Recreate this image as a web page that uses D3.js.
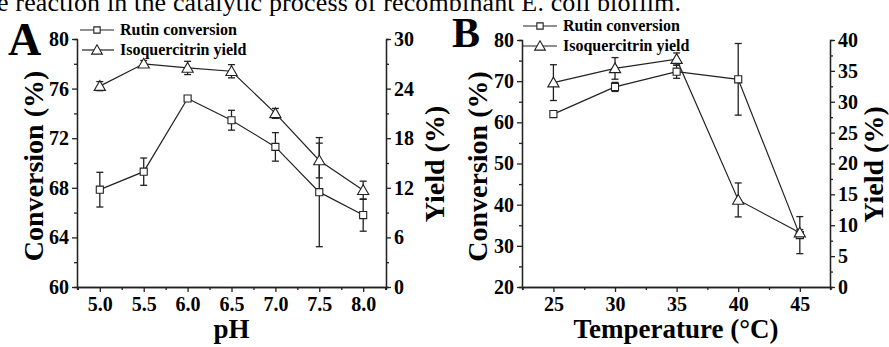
<!DOCTYPE html>
<html>
<head>
<meta charset="utf-8">
<script src="https://cdn.jsdelivr.net/npm/d3@7"></script>
<style>
  body { margin: 0; background: #fff; }
  svg { display: block; font-family: "Liberation Serif", "Times New Roman", serif; }
  .axis path, .axis line { stroke: #222; stroke-width: 1.3px; }
  .axis text { font-size: 20px; font-weight: bold; fill: #000; font-family: "Liberation Serif", serif; }
</style>
</head>
<body>
<svg id="chart" width="889" height="347"></svg>
<script>
// panel A: pH
const phValues = [5.0, 5.5, 6.0, 6.5, 7.0, 7.5, 8.0];
const phConversion = [67.85, 69.3, 75.2, 73.45, 71.3, 67.65, 65.8];
const phConversionErr = [1.4, 1.1, 0.1, 0.8, 1.15, 4.4, 1.3];
const phYield = [24.3, 27.0, 26.5, 26.1, 21.0, 15.3, 11.7];
const phYieldErr = [0.55, 0.4, 0.8, 0.8, 0.6, 2.1, 1.1];
const phTicks = [5.0, 5.5, 6.0, 6.5, 7.0, 7.5, 8.0];
const phConvTicks = [60, 64, 68, 72, 76, 80];
const phYieldTicks = [0, 6, 12, 18, 24, 30];

// panel B: temperature
const tempValues = [25, 30, 35, 40, 45];
const tempConversion = [62.0, 68.6, 72.3, 70.45, 32.6];
const tempConversionErr = [0.4, 1.1, 1.6, 8.7, 4.5];
const tempYield = [33.1, 35.4, 36.9, 14.1, 8.8];
const tempYieldErr = [2.9, 1.75, 1.0, 2.75, 0.5];
const tempTicks = [25, 30, 35, 40, 45];
const tempConvTicks = [20, 30, 40, 50, 60, 70, 80];
const tempYieldTicks = [0, 5, 10, 15, 20, 25, 30, 35, 40];

const seriesNames = ["Rutin conversion", "Isoquercitrin yield"];

const svg = d3.select("#chart");

// caption line cut off at the top of the picture
svg.append("text")
  .attr("x", -3).attr("y", 11)
  .attr("textLength", 684)
  .style("font-size", "26px")
  .text("e reaction in the catalytic process of recombinant E. coli biofilm.");

function drawPanel(p) {
  const g = svg.append("g");
  const x = d3.scaleLinear().domain(p.xDomain).range([p.left, p.right]);
  const yL = d3.scaleLinear().domain(p.yLDomain).range([p.bottom, p.top]);
  const yR = d3.scaleLinear().domain(p.yRDomain).range([p.bottom, p.top]);

  // minor ticks first
  const minor = (axis, scale, vals) => axis(scale).tickValues(vals).tickSize(3).tickFormat("");
  g.append("g").attr("class", "axis").attr("transform", `translate(0,${p.bottom})`)
    .call(minor(d3.axisBottom, x, p.xMinor));
  g.append("g").attr("class", "axis").attr("transform", `translate(${p.left},0)`)
    .call(minor(d3.axisLeft, yL, p.yLMinor));
  g.append("g").attr("class", "axis").attr("transform", `translate(${p.right},0)`)
    .call(minor(d3.axisRight, yR, p.yRMinor));

  g.append("g").attr("class", "axis").attr("transform", `translate(0,${p.bottom})`)
    .call(d3.axisBottom(x).tickValues(p.xTicks).tickSize(5).tickPadding(5)
      .tickSizeOuter(0).tickFormat(p.xFormat));
  g.append("g").attr("class", "axis").attr("transform", `translate(${p.left},0)`)
    .call(d3.axisLeft(yL).tickValues(p.yLTicks).tickSize(5).tickPadding(3).tickSizeOuter(0));
  g.append("g").attr("class", "axis").attr("transform", `translate(${p.right},0)`)
    .call(d3.axisRight(yR).tickValues(p.yRTicks).tickSize(5).tickPadding(3).tickSizeOuter(0));

  // axis titles
  g.append("text")
    .attr("transform", `translate(${p.leftTitleX},${(p.top + p.bottom) / 2 + 3}) rotate(-90)`)
    .attr("text-anchor", "middle").style("font-size", "28px").style("font-weight", "bold")
    .text("Conversion (%)");
  g.append("text")
    .attr("transform", `translate(${p.rightTitleX},${(p.top + p.bottom) / 2 + 1}) rotate(-90)`)
    .attr("text-anchor", "middle").style("font-size", "28px").style("font-weight", "bold")
    .text("Yield (%)");
  g.append("text")
    .attr("x", (p.left + p.right) / 2).attr("y", 338)
    .attr("text-anchor", "middle").style("font-size", "27px").style("font-weight", "bold")
    .text(p.xTitle);

  // panel letter
  g.append("text")
    .attr("x", p.letterX).attr("y", p.letterY)
    .style("font-size", p.letterSize).style("font-weight", "bold")
    .text(p.letter);

  const series = [
    { vals: p.conv, err: p.convErr, y: yL, shape: "square" },
    { vals: p.yld, err: p.yldErr, y: yR, shape: "triangle" }
  ];

  series.forEach(s => {
    const pts = p.xs.map((v, i) => ({ x: v, y: s.vals[i], e: s.err[i] }));
    // error bars
    const eb = g.append("g").attr("stroke", "#222").attr("stroke-width", 1.3);
    pts.forEach(d => {
      const cx = x(d.x), y1 = s.y(d.y + d.e), y2 = s.y(d.y - d.e);
      eb.append("line").attr("x1", cx).attr("x2", cx).attr("y1", y1).attr("y2", y2);
      eb.append("line").attr("x1", cx - 3.5).attr("x2", cx + 3.5).attr("y1", y1).attr("y2", y1);
      eb.append("line").attr("x1", cx - 3.5).attr("x2", cx + 3.5).attr("y1", y2).attr("y2", y2);
    });
    g.append("path")
      .datum(pts)
      .attr("fill", "none").attr("stroke", "#222").attr("stroke-width", 1.2)
      .attr("d", d3.line().x(d => x(d.x)).y(d => s.y(d.y)));
    const sym = d3.symbol().type(s.shape === "square" ? d3.symbolSquare : d3.symbolTriangle)
      .size(s.shape === "square" ? 50 : 55);
    g.selectAll(null).data(pts).enter().append("path")
      .attr("transform", d => `translate(${x(d.x)},${s.y(d.y) + (s.shape === "triangle" ? 1 : 0)})`)
      .attr("d", sym)
      .attr("fill", "#fff").attr("stroke", "#222").attr("stroke-width", 1.1);
  });

  // legend
  const lg = g.append("g");
  seriesNames.forEach((name, i) => {
    const ly = p.legendY + i * 20;
    const lx0 = p.legendX + (i === 1 ? p.legendShift : 0);
    lg.append("line").attr("x1", lx0).attr("x2", p.legendX + 34)
      .attr("y1", ly).attr("y2", ly).attr("stroke", "#222").attr("stroke-width", 1.2);
    lg.append("path")
      .attr("transform", `translate(${p.legendX + 17},${ly + (i === 1 ? 1 : 0)})`)
      .attr("d", d3.symbol().type(i === 0 ? d3.symbolSquare : d3.symbolTriangle).size(i === 0 ? 40 : 50))
      .attr("fill", "#fff").attr("stroke", "#222").attr("stroke-width", 1.1);
    lg.append("text")
      .attr("x", p.legendX + 40).attr("y", ly + 5)
      .style("font-size", "16px").style("font-weight", "bold")
      .text(name);
  });
}

drawPanel({
  left: 77, right: 386, top: 39, bottom: 287,
  xDomain: [4.74, 8.26], yLDomain: [60, 80], yRDomain: [0, 30],
  xTicks: phTicks, xMinor: [4.75, 5.25, 5.75, 6.25, 6.75, 7.25, 7.75, 8.25],
  xFormat: d3.format(".1f"),
  yLTicks: phConvTicks, yLMinor: [62, 66, 70, 74, 78],
  yRTicks: phYieldTicks, yRMinor: [3, 9, 15, 21, 27],
  xs: phValues, conv: phConversion, convErr: phConversionErr,
  yld: phYield, yldErr: phYieldErr,
  xTitle: "pH", leftTitleX: 43, rightTitleX: 444,
  letter: "A", letterX: 8, letterY: 55, letterSize: "46px",
  legendX: 80, legendY: 30, legendShift: 2
});

drawPanel({
  left: 522, right: 830, top: 40, bottom: 287,
  xDomain: [22.45, 47.45], yLDomain: [20, 80], yRDomain: [0, 40],
  xTicks: tempTicks, xMinor: [22.5, 27.5, 32.5, 37.5, 42.5, 47.5],
  xFormat: d3.format("d"),
  yLTicks: tempConvTicks, yLMinor: [25, 35, 45, 55, 65, 75],
  yRTicks: tempYieldTicks, yRMinor: [2.5, 7.5, 12.5, 17.5, 22.5, 27.5, 32.5, 37.5],
  xs: tempValues, conv: tempConversion, convErr: tempConversionErr,
  yld: tempYield, yldErr: tempYieldErr,
  xTitle: "Temperature (\u00B0C)", leftTitleX: 487, rightTitleX: 883,
  letter: "B", letterX: 452, letterY: 47, letterSize: "42px",
  legendX: 523, legendY: 26, legendShift: 0
});
</script>
</body>
</html>
